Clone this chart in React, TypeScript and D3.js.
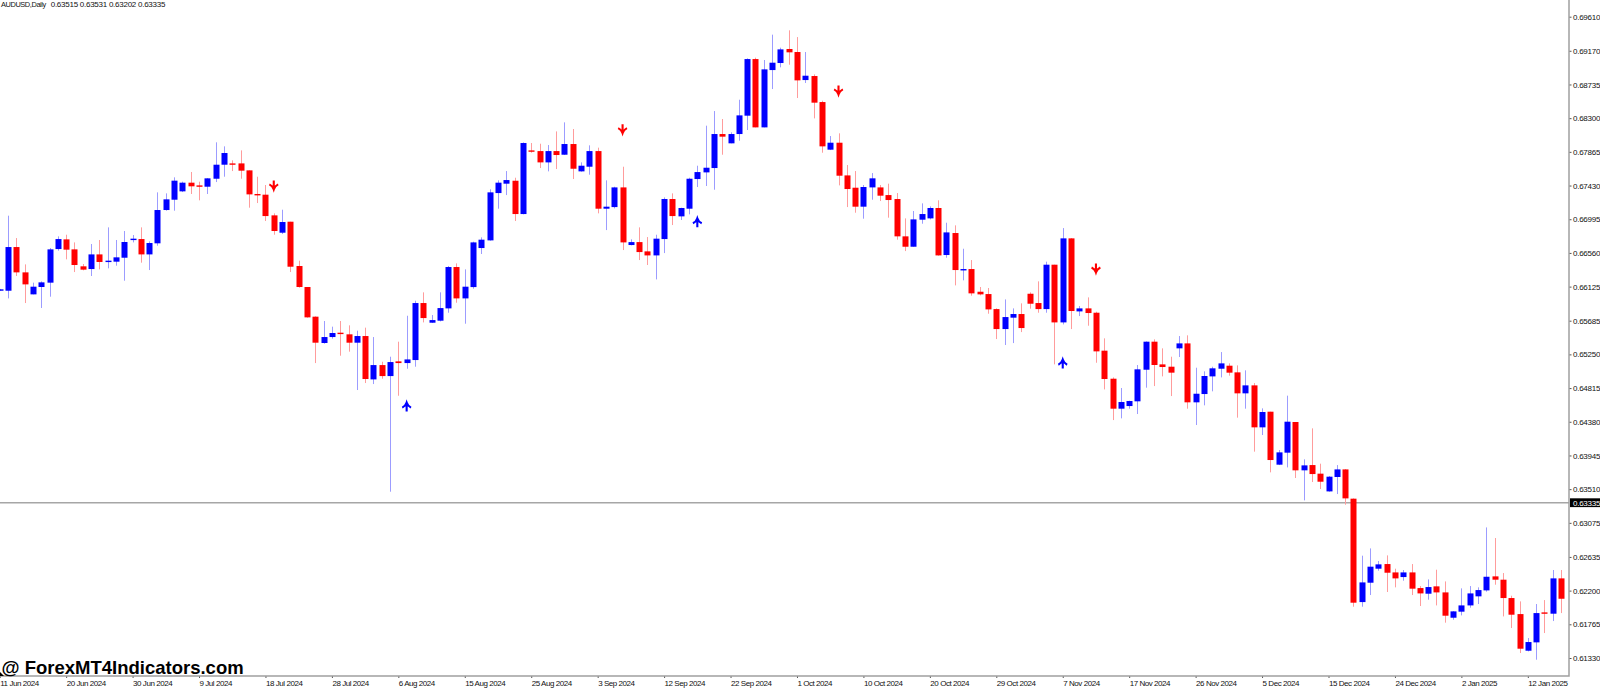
import React, { useEffect, useRef } from 'react';
import * as d3 from 'd3';

// AUDUSD daily bars, prices in points (1 point = 0.00001)
const opens = [
  66073, 66072, 66636, 66309, 66025, 66120, 66176, 66610, 66735, 66606, 66387,
  66352, 66541, 66443, 66447, 66498, 66731, 66739, 66541, 66684, 67114,
  67247, 67355, 67467, 67432, 67415, 67518, 67699, 67716, 67716, 67626,
  67321, 67312, 67045, 66821, 66963, 66391, 66120, 65737, 65397, 65474,
  65530, 65509, 65401, 65487, 64927, 65112, 64970, 65160, 65138, 65177,
  65913, 65659, 65685, 65844, 66378, 65973, 66119, 66623, 66722, 67333,
  67454, 67492, 67062, 67884, 67875, 67729, 67875, 67828, 67966, 67613,
  67673, 67875, 67131, 67152, 67406, 66662, 66700, 66580, 66528, 66739,
  67256, 67032, 67131, 67514, 67600, 67656, 68095, 67975, 68095, 68332,
  69063, 68181, 68921, 69012, 69193, 69154, 68792, 68844, 68508, 67893,
  67983, 67561, 67402, 67157, 67406, 67406, 67307, 67256, 66774, 66640,
  66989, 67006, 67140, 66533, 66817, 66339, 66352, 66059, 66029, 65835,
  65577, 65724, 65771, 66033, 65913, 65835, 66408, 65663, 66748, 65805,
  65844, 65788, 65298, 64936, 64549, 64583, 64644, 65052, 65414, 65121,
  65091, 65328, 65392, 64631, 64738, 64966, 65065, 65104, 65018, 64747,
  64850, 64308, 64510, 63826, 63981, 64377, 63753, 63821, 63710, 63481,
  63667, 63765, 63387, 62052, 62302, 62483, 62543, 62435, 62375, 62435,
  62233, 62160, 62255, 62177, 61850, 61928, 62009, 62126, 62203, 62384,
  62341, 62104, 61897, 61424, 61532, 61919, 61902, 62358,
];
const highs = [
  66095, 67041, 66752, 66412, 66176, 66193, 66623, 66774, 66795, 66696, 66417,
  66675, 66727, 66890, 66727, 66843, 66791, 66890, 66709, 67342, 67329,
  67536, 67480, 67605, 67480, 67527, 67988, 67936, 67755, 67884, 67626,
  67544, 67437, 67071, 67118, 66963, 66460, 66120, 65741, 65681, 65608,
  65681, 65625, 65556, 65595, 65474, 65155, 65220, 65414, 65749, 65943,
  66051, 65758, 66051, 66391, 66425, 66348, 66705, 66761, 67381, 67497,
  67617, 67531, 67987, 67979, 67970, 67953, 68129, 68246, 68160, 67729,
  67949, 67919, 67497, 67415, 67673, 66735, 66890, 66765, 66795, 67277,
  67329, 67144, 67531, 67686, 68203, 68392, 68289, 68117, 68538, 69072,
  69081, 69051, 69378, 69210, 69434, 69347, 69154, 68865, 68525, 68069,
  68104, 67695, 67617, 67437, 67591, 67437, 67454, 67333, 67006, 67101,
  67200, 67161, 67239, 66950, 66916, 66614, 66468, 66120, 66107, 65844,
  65960, 65844, 65909, 66051, 66193, 66447, 66408, 66881, 66752, 65874,
  65986, 65801, 65457, 64953, 64816, 64652, 65113, 65418, 65444, 65328,
  65220, 65487, 65496, 65078, 65031, 65091, 65280, 65134, 65108, 65044,
  64880, 64553, 64510, 64015, 64717, 64377, 63895, 64295, 63839, 63679,
  63821, 63770, 63391, 62651, 62745, 62582, 62655, 62483, 62466, 62543,
  62259, 62345, 62470, 62319, 61936, 62229, 62259, 62242, 63016, 62879,
  62427, 62134, 62061, 61588, 62027, 62078, 62466, 62466,
];
const lows = [
  66070, 65973, 66262, 65913, 66025, 65849, 65995, 66589, 66477, 66313, 66335,
  66262, 66348, 66361, 66395, 66201, 66696, 66434, 66339, 66653, 67105,
  67105, 67346, 67321, 67239, 67321, 67475, 67544, 67617, 67518, 67144,
  67204, 66972, 66795, 66804, 66313, 66111, 65724, 65138, 65388, 65453,
  65233, 65285, 64790, 64880, 64867, 64936, 63477, 64716, 65065, 65091,
  65663, 65655, 65676, 65788, 65917, 65646, 66098, 66546, 66718, 67131,
  67307, 66972, 67058, 67854, 67656, 67613, 67643, 67824, 67514, 67609,
  67570, 67071, 66855, 67135, 66597, 66657, 66468, 66404, 66218, 66558,
  66920, 66985, 67058, 67411, 67424, 67376, 67828, 67975, 68009, 68147,
  68181, 68181, 68676, 68956, 68990, 68560, 68754, 68297, 67854, 67888,
  67432, 67152, 67079, 67002, 67247, 67230, 67015, 66731, 66584, 66640,
  66937, 66993, 66524, 66498, 66141, 66206, 66008, 66012, 65775, 65448,
  65371, 65396, 65538, 65840, 65788, 65788, 65121, 65637, 65577, 65745,
  65620, 65142, 64798, 64402, 64424, 64549, 64480, 64820, 64841, 64966,
  64712, 65216, 64549, 64338, 64592, 64773, 64953, 64975, 64433, 64549,
  63994, 64209, 63727, 63821, 63791, 63654, 63365, 63602, 63512, 63477,
  63447, 63309, 61992, 61992, 62143, 62457, 62182, 62242, 62328, 62143,
  62001, 62083, 62009, 61786, 61824, 61880, 61979, 62027, 62186, 62276,
  61867, 61717, 61394, 61415, 61308, 61652, 61807, 61910,
];
const closes = [
  66090, 66636, 66309, 66154, 66124, 66180, 66606, 66739, 66602, 66404, 66344,
  66541, 66443, 66460, 66503, 66701, 66744, 66541, 66688, 67114, 67252,
  67493, 67467, 67420, 67415, 67523, 67699, 67850, 67708, 67622, 67316,
  67308, 67036, 66843, 66959, 66382, 66120, 65728, 65401, 65474, 65526,
  65513, 65401, 65487, 64932, 65112, 64970, 65151, 65138, 65185, 65913,
  65719, 65693, 65848, 66378, 65973, 66124, 66696, 66731, 67342, 67467,
  67501, 67062, 67979, 67867, 67729, 67875, 67824, 67966, 67647, 67686,
  67875, 67131, 67157, 67406, 66696, 66700, 66571, 66528, 66744, 67256,
  67036, 67140, 67518, 67604, 67660, 68095, 68061, 68095, 68336, 69063,
  68181, 68930, 69016, 69188, 69150, 68788, 68848, 68500, 67936, 67983,
  67557, 67385, 67157, 67411, 67523, 67299, 67243, 66774, 66640, 66993,
  67062, 67140, 66528, 66825, 66339, 66352, 66038, 66025, 65831, 65577,
  65732, 65771, 65590, 65904, 65835, 66408, 65663, 66748, 65810, 65844,
  65784, 65289, 64932, 64549, 64635, 64648, 65057, 65414, 65113, 65087,
  65014, 65392, 64631, 64742, 64971, 65070, 65134, 65014, 64747, 64850,
  64308, 64506, 63886, 63985, 64381, 63753, 63817, 63705, 63606, 63671,
  63765, 63391, 62044, 62306, 62509, 62539, 62431, 62358, 62435, 62225,
  62164, 62246, 62177, 61876, 61932, 62009, 62164, 62207, 62379, 62341,
  62104, 61889, 61450, 61536, 61910, 61906, 62358, 62095,
];

const upArrowBars = [49, 84, 128];
const upArrowPrices = [0.6457, 0.6695, 0.65125];
const downArrowBars = [33, 75, 101, 132];
const downArrowPrices = [0.67437, 0.68164, 0.68664, 0.66365];

const priceTicks = [
  0.6961, 0.6917, 0.68735, 0.683, 0.67865, 0.6743, 0.66995, 0.6656, 0.66125, 0.65685,
  0.6525, 0.64815, 0.6438, 0.63945, 0.6351, 0.63075, 0.62635, 0.622, 0.61765, 0.6133,
];
const dateLabels = [
  '11 Jun 2024', '20 Jun 2024', '30 Jun 2024', '9 Jul 2024', '18 Jul 2024', '28 Jul 2024',
  '6 Aug 2024', '15 Aug 2024', '25 Aug 2024', '3 Sep 2024', '12 Sep 2024', '22 Sep 2024',
  '1 Oct 2024', '10 Oct 2024', '20 Oct 2024', '29 Oct 2024', '7 Nov 2024', '17 Nov 2024',
  '26 Nov 2024', '5 Dec 2024', '15 Dec 2024', '24 Dec 2024', '2 Jan 2025', '12 Jan 2025',
];
const barsPerLabel = 8;
const lastPrice = 0.63335;
const symbolText = 'AUDUSD,Daily';
const quoteText = ['0.63515', '0.63531', '0.63202', '0.63335'];
const watermark = '@ ForexMT4Indicators.com';

const App: React.FC = () => {
  const svgRef = useRef<SVGSVGElement>(null);

  useEffect(() => {
    if (!svgRef.current) return;

    const width = 1600;
    const height = 689;
    const axisX = 1569;
    const axisY = 676;
    const font = '"Liberation Sans", sans-serif';
    const svg = d3.select(svgRef.current);
    svg.selectAll('*').remove();

    const x = d3.scaleLinear().domain([0, 188]).range([-0.3, 1561.04]);
    const y = d3.scaleLinear().domain([0.6961, 0.6133]).range([16.7, 658]);
    const pt = (v: number) => y(v / 100000);
    const bars = d3.range(opens.length);
    const isUp = (i: number) => closes[i] >= opens[i];

    svg.append('rect').attr('width', width).attr('height', height).attr('fill', '#fff');

    // Last price line
    svg.append('line')
      .attr('x1', 0).attr('x2', axisX)
      .attr('y1', y(lastPrice)).attr('y2', y(lastPrice))
      .attr('stroke', '#a6a6a6')
      .attr('stroke-width', 1.5);

    // Wicks
    svg.append('g')
      .selectAll('line')
      .data(bars)
      .join('line')
      .attr('x1', i => Math.round(x(i)) + 0.5)
      .attr('x2', i => Math.round(x(i)) + 0.5)
      .attr('y1', i => pt(highs[i]))
      .attr('y2', i => pt(lows[i]))
      .attr('stroke', i => (isUp(i) ? '#9c9cff' : '#ff9c9c'))
      .attr('stroke-width', 1);

    // Bodies
    svg.append('g')
      .selectAll('rect')
      .data(bars)
      .join('rect')
      .attr('x', i => Math.round(x(i)) - 2.5)
      .attr('width', 6)
      .attr('y', i => pt(Math.max(opens[i], closes[i])))
      .attr('height', i => Math.max(1.4, Math.abs(pt(opens[i]) - pt(closes[i]))))
      .attr('fill', i => (isUp(i) ? '#0000ff' : '#ff0000'));

    // Signal arrows
    const upArrow = 'M0,4.5 V-4 M-4.4,0.6 Q-1.2,-0.8 0,-4.4 Q1.2,-0.8 4.4,0.6';
    const downArrow = 'M0,-4.5 V4 M-4.4,-0.6 Q-1.2,0.8 0,4.4 Q1.2,0.8 4.4,-0.6';
    svg.append('g')
      .selectAll('path')
      .data(upArrowBars)
      .join('path')
      .attr('transform', (b, k) => `translate(${x(b)},${y(upArrowPrices[k])})`)
      .attr('d', upArrow)
      .attr('fill', 'none')
      .attr('stroke', '#0000ff')
      .attr('stroke-width', 2.1);
    svg.append('g')
      .selectAll('path')
      .data(downArrowBars)
      .join('path')
      .attr('transform', (b, k) => `translate(${x(b)},${y(downArrowPrices[k])})`)
      .attr('d', downArrow)
      .attr('fill', 'none')
      .attr('stroke', '#ff0000')
      .attr('stroke-width', 2.1);

    // Price axis
    const yAxis = svg.append('g')
      .attr('transform', `translate(${axisX},0)`)
      .call(d3.axisRight(y).tickValues(priceTicks).tickSize(2.5).tickPadding(1.5).tickFormat(d3.format('.5f') as any));
    yAxis.select('.domain').remove();
    yAxis.selectAll('line').attr('stroke', '#555');
    yAxis.selectAll('text')
      .attr('fill', '#111')
      .attr('font-family', font)
      .attr('font-size', 8)
      .attr('letter-spacing', -0.25);

    // Date axis
    const xAxis = svg.append('g')
      .attr('transform', `translate(0,${axisY})`)
      .call(
        d3.axisBottom(x)
          .tickValues(dateLabels.map((_, k) => k * barsPerLabel))
          .tickSize(2)
          .tickPadding(2)
          .tickFormat((d: any) => dateLabels[d / barsPerLabel]) as any
      );
    xAxis.select('.domain').remove();
    xAxis.selectAll('line').attr('stroke', '#555');
    xAxis.selectAll('text')
      .attr('text-anchor', 'start')
      .attr('fill', '#111')
      .attr('font-family', font)
      .attr('font-size', 8)
      .attr('letter-spacing', -0.45);

    // Chart frame
    svg.append('path')
      .attr('d', `M${axisX},0 V${axisY} H0`)
      .attr('fill', 'none')
      .attr('stroke', '#a0a0a0')
      .attr('stroke-width', 1.5);

    // Last price tag
    svg.append('rect')
      .attr('x', axisX + 1).attr('y', y(lastPrice) - 4.4)
      .attr('width', width - axisX - 1).attr('height', 8.8)
      .attr('fill', '#000');
    svg.append('text')
      .attr('x', axisX + 4).attr('y', y(lastPrice) + 2.9)
      .attr('fill', '#fff')
      .attr('font-family', font)
      .attr('font-size', 8)
      .attr('letter-spacing', -0.25)
      .text(d3.format('.5f')(lastPrice));

    // Header: symbol, then the four quotes
    svg.append('text')
      .attr('x', 1).attr('y', 6.8)
      .attr('fill', '#111')
      .attr('font-family', font)
      .attr('font-size', 7.4)
      .attr('letter-spacing', -0.4)
      .text(symbolText);
    svg.append('g')
      .selectAll('text')
      .data(quoteText)
      .join('text')
      .attr('x', (_, k) => 50.7 + k * 29.1)
      .attr('y', 6.8)
      .attr('fill', '#111')
      .attr('font-family', font)
      .attr('font-size', 8)
      .attr('letter-spacing', -0.25)
      .text(d => d);

    svg.append('path').attr('d', 'M0,672 L4,676 L0,676 Z').attr('fill', '#000');
    svg.append('text')
      .attr('x', 1.5).attr('y', 674)
      .attr('fill', '#000')
      .attr('font-family', font)
      .attr('font-weight', 700)
      .attr('font-size', 18.5)
      .text(watermark);
  }, []);

  return (
    <svg
      ref={svgRef}
      width="1600"
      height="689"
      style={{ position: 'fixed', left: 0, top: 0, display: 'block' }}
    ></svg>
  );
};

export default App;
